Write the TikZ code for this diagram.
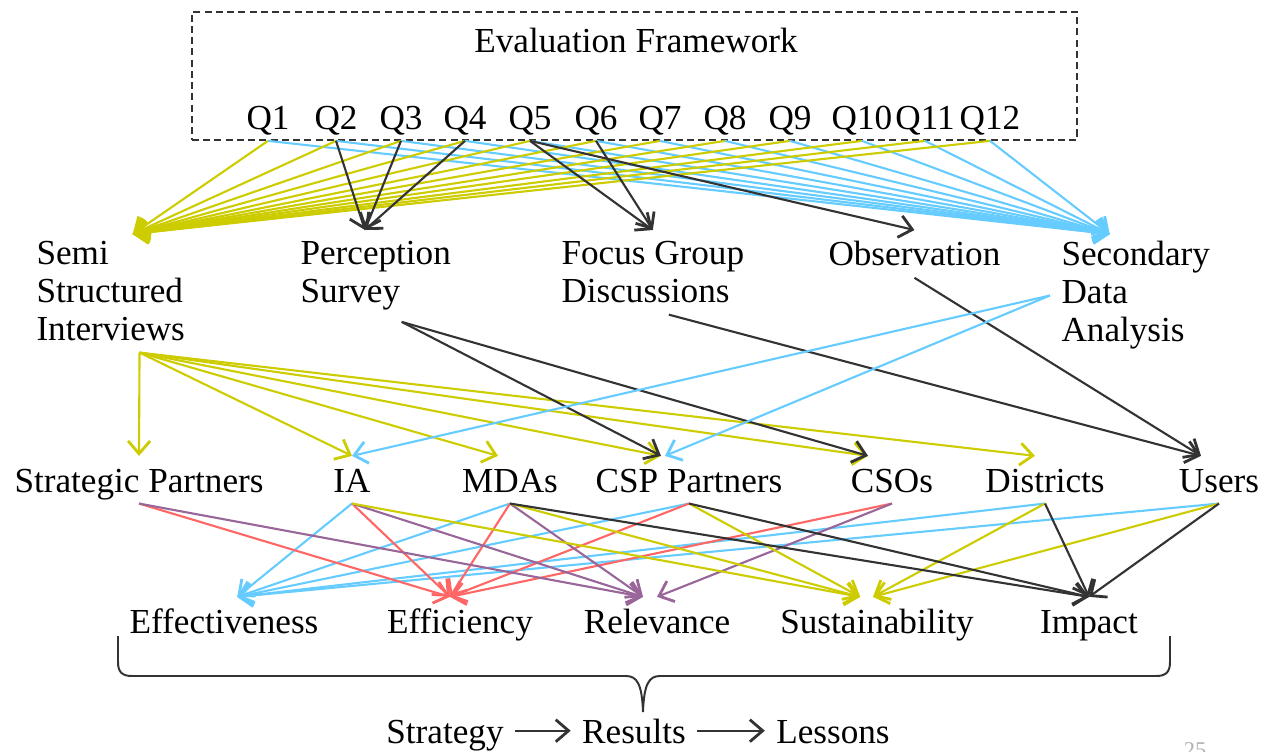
\documentclass[tikz,border=0pt]{standalone}
\usepackage{fontspec}
\setmainfont{Liberation Serif}
\usetikzlibrary{arrows.meta}

\definecolor{linkyellow}{HTML}{CCCC00}
\definecolor{linkblue}{HTML}{66CCFF}
\definecolor{linkred}{HTML}{FF6666}
\definecolor{linkpurple}{HTML}{996699}
\definecolor{linkgray}{HTML}{333333}

\begin{document}
\begin{tikzpicture}[x=0.025cm, y=-0.025cm,
    every node/.style={font=\fontsize{25}{27}\selectfont, inner sep=8pt},
    >={Straight Barb[length=3.2mm,width=5.5mm,line width=2pt]},
    link/.style={->, line width=1.5pt},
    yline/.style={link, linkyellow},
    bline/.style={link, linkblue},
    rline/.style={link, linkred},
    pline/.style={link, linkpurple},
    kline/.style={link, linkgray},
    method/.style={anchor=north west, align=left},
    word/.style={anchor=base, text height=17.5pt, text depth=0pt}]
    \useasboundingbox (0,0) rectangle (1271,751);

    % framework box with the twelve questions
    \node[draw=linkgray, dash pattern=on 5pt off 3pt, line width=1.2pt,
          minimum width=22.125cm, minimum height=3.2cm, inner sep=0pt]
          (frame) at (634.5,76) {};
    \node[anchor=base] (title) at (636,52) {Evaluation Framework};
    \foreach \x [count=\i] in {268,336,401,465,530,596,660,725,790,862,925,990}
        \node[anchor=base] (q\i) at (\x,129) {Q\i};

    % data collection methods
    \node[method] (ssi) at (25,230) {Semi\\Structured\\Interviews};
    \node[method] (ps) at (289,230) {Perception\\Survey};
    \node[method] (fgd) at (550,230) {Focus Group\\Discussions};
    \node[method] (obs) at (817,230) {Observation};
    \node[method] (sda) at (1050,230) {Secondary\\Data\\Analysis};

    % stakeholders
    \node[word] (sp) at (139,492) {Strategic Partners};
    \node[word] (ia) at (352,492) {IA};
    \node[word] (mda) at (510,492) {MDAs};
    \node[word] (csp) at (689,492) {CSP Partners};
    \node[word] (cso) at (892,492) {CSOs};
    \node[word] (dis) at (1045,492) {Districts};
    \node[word] (usr) at (1219,492) {Users};

    % evaluation criteria
    \node[word] (eff) at (224,633) {Effectiveness};
    \node[word] (effi) at (460,633) {Efficiency};
    \node[word] (rel) at (657,633) {Relevance};
    \node[word] (sus) at (877,633) {Sustainability};
    \node[word] (imp) at (1089,633) {Impact};

    % questions -> methods
    \foreach \i in {1,...,12} {
        \draw[yline] (q\i |- frame.south) -- ([xshift=0.55cm,yshift=-0.1cm]ssi.north);
        \draw[bline] (q\i |- frame.south) -- ([xshift=-0.65cm,yshift=-0.1cm]sda.north);
    }
    \draw[kline] (q2 |- frame.south) -- ([xshift=-0.27cm]ps.north);
    \draw[kline] (q3 |- frame.south) -- ([xshift=-0.27cm]ps.north);
    \draw[kline] (q4 |- frame.south) -- ([xshift=-0.27cm]ps.north);
    \draw[kline] (q5 |- frame.south) -- (fgd.north);
    \draw[kline] (q6 |- frame.south) -- (fgd.north);
    \draw[kline] (q5 |- frame.south) -- (obs.north);

    % methods -> stakeholders
    \draw[yline] ([xshift=0.72cm]ssi.south) -- (sp.north);
    \draw[yline] ([xshift=0.72cm]ssi.south) -- (ia.north);
    \draw[yline] ([xshift=0.72cm]ssi.south) -- ([xshift=-0.3cm]mda.north);
    \draw[yline] ([xshift=0.72cm]ssi.south) -- ([xshift=-0.7cm]csp.north);
    \draw[yline] ([xshift=0.72cm]ssi.south) -- ([xshift=-0.6cm]cso.north);
    \draw[yline] ([xshift=0.72cm]ssi.south) -- ([xshift=-0.25cm]dis.north);
    \draw[kline] ([xshift=0.65cm]ps.south) -- ([xshift=-0.7cm]csp.north);
    \draw[kline] ([xshift=0.65cm]ps.south) -- ([xshift=-0.6cm]cso.north);
    \draw[kline] ([xshift=0.4cm]fgd.south) -- ([xshift=-0.45cm]usr.north);
    \draw[kline] (obs.south) -- ([xshift=-0.45cm]usr.north);
    \draw[bline] (sda.west) -- (ia.north);
    \draw[bline] (sda.west) -- ([xshift=-0.6cm]csp.north);

    % stakeholders -> criteria
    \foreach \s in {ia,mda,csp,dis,usr}
        \draw[bline] (\s.south) -- ([xshift=0.33cm]eff.north);
    \foreach \s in {sp,ia,mda,csp,cso}
        \draw[rline] (\s.south) -- ([xshift=-0.25cm]effi.north);
    \foreach \s in {sp,ia,mda}
        \draw[pline] (\s.south) -- ([xshift=-0.35cm]rel.north);
    \draw[pline] (cso.south) -- (rel.north);
    \foreach \s in {ia,mda,csp}
        \draw[yline] (\s.south) -- ([xshift=-0.42cm]sus.north);
    \foreach \s in {dis,usr}
        \draw[yline] (\s.south) -- ([xshift=-0.1cm]sus.north);
    \foreach \s in {mda,csp,dis,usr}
        \draw[kline] (\s.south) -- (imp.north);

    % brace under the criteria
    \draw[line width=1.4pt, linkgray] (118,636) -- (118,662)
        .. controls (118,672) and (122,676) .. (132,676) -- (626,676)
        .. controls (637,676) and (642,684) .. (643,712)
        .. controls (644,684) and (649,676) .. (660,676) -- (1156,676)
        .. controls (1166,676) and (1170,672) .. (1170,662) -- (1170,636);

    % strategy -> results -> lessons
    \node[word] (strat) at (445,743) {Strategy};
    \node[word] (res) at (634,743) {Results};
    \node[word] (less) at (833,743) {Lessons};
    \draw[kline] (strat) -- (res);
    \draw[kline] (res) -- (less);

    \node[anchor=base, font=\fontsize{16}{18}\selectfont, text=gray!60]
        (page) at (1195,757) {25};
\end{tikzpicture}
\end{document}
